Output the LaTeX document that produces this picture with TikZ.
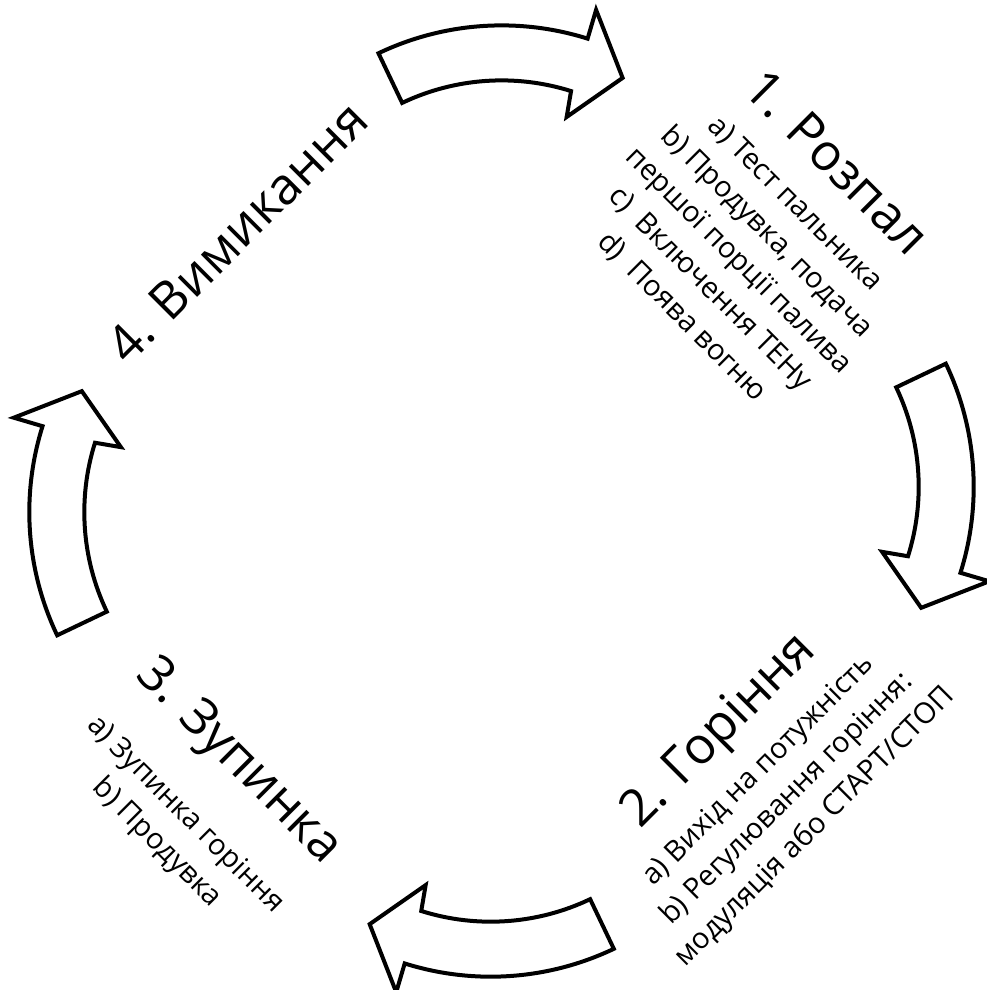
\documentclass[tikz,border=0pt]{standalone}
\usepackage{fontspec}
\setmainfont{Open Sans}
\usetikzlibrary{positioning}

\begin{document}
\begin{tikzpicture}[
  x=1pt, y=1pt,
  arrowline/.style={draw=black, fill=white, line width=4pt, line join=miter},
  stagetitle/.style={font=\fontsize{51}{61}\selectfont, inner sep=0pt},
  stageitems/.style={font=\fontsize{29}{40}\selectfont, align=center, inner sep=0pt},
  cyclearrow/.pic={
    \draw[arrowline] (115.5:286) arc[start angle=115.5, end angle=72.5, radius=286]
      -- (72.6:316) -- (62.6:263) -- (71.5:205) -- (72.5:231)
      arc[start angle=72.5, end angle=115.5, radius=231] -- cycle;
  }
]
\useasboundingbox (0,0) rectangle (987,990);

% Arrows between the stages
\pic (arrowone) at (501.6,678.6) {cyclearrow};
\pic[rotate=-90] (arrowtwo) at (687.7,503.2) {cyclearrow};
\pic[rotate=180] (arrowthree) at (490.7,299.3) {cyclearrow};
\pic[rotate=90] (arrowfour) at (315.3,477.8) {cyclearrow};

% 1. Ignition
\begin{scope}[shift={(837,828)}, rotate=-45, transform shape]
  \node[stagetitle] (ignition) {1. Розпал};
  \node[stageitems, below=28pt of ignition] (ignitionsteps) {a) Тест пальника\\
    b) Продувка, подача\\ першої порції палива\\ c)\ \ Включення ТЕНу\\ d)\ \ Поява вогню};
\end{scope}

% 2. Burning
\begin{scope}[shift={(720,258)}, rotate=45, transform shape]
  \node[stagetitle] (burning) {2. Горіння};
  \node[stageitems, below=16pt of burning] (burningsteps) {a) Вихід на потужність\\
    b) Регулювання горіння:\\ модуляція або СТАРТ/СТОП};
\end{scope}

% 3. Stop
\begin{scope}[shift={(238,228)}, rotate=-45, transform shape]
  \node[stagetitle] (stopping) {3. Зупинка};
  \node[stageitems, below=36pt of stopping] (stoppingsteps) {a) Зупинка горіння\\ b) Продувка};
\end{scope}

% 4. Shutdown
\begin{scope}[shift={(237,758)}, rotate=45, transform shape]
  \node[stagetitle] (shutdown) {4. Вимикання};
\end{scope}

\end{tikzpicture}
\end{document}
